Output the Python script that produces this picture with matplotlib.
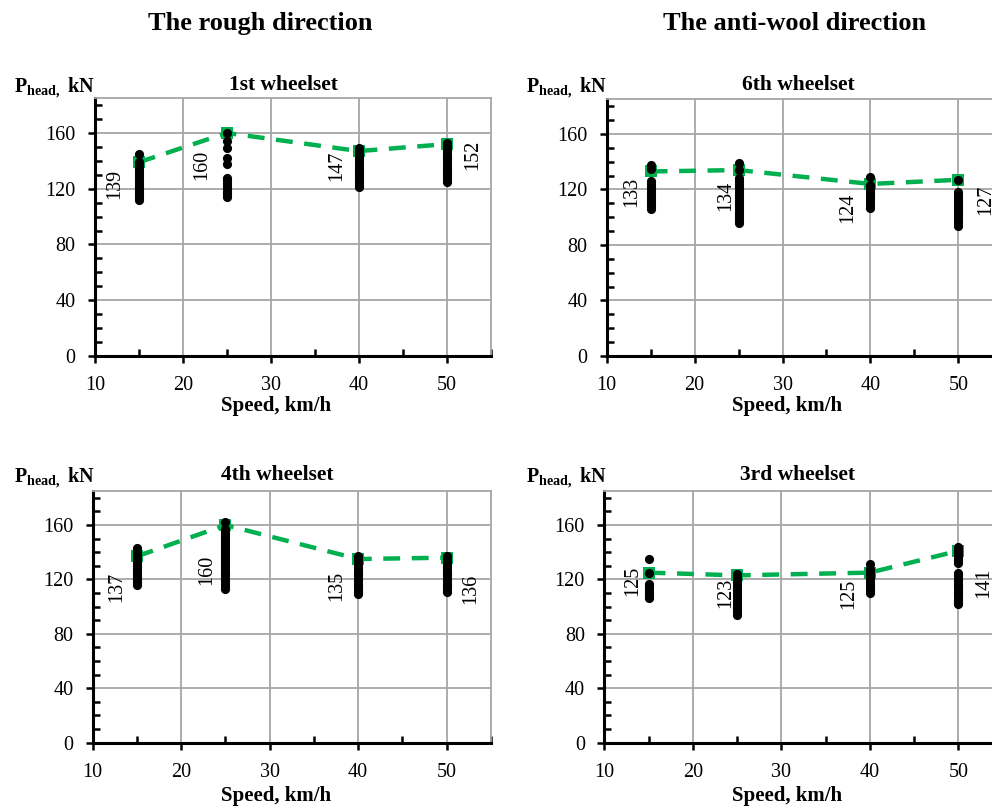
import matplotlib
matplotlib.use("Agg")
import matplotlib.pyplot as plt
from matplotlib.ticker import MultipleLocator

plt.rcParams['font.family'] = 'Liberation Serif'
plt.rcParams['mathtext.fontset'] = 'custom'
plt.rcParams['mathtext.rm'] = 'Liberation Serif'
plt.rcParams['mathtext.bf'] = 'Liberation Serif:bold'

speeds = [15, 25, 40, 50]

# 1st wheelset (rough direction)
ws1_max = [139, 160, 147, 152]
ws1_15 = [145, 139, 137, 135, 133, 131, 129, 127, 125, 123, 121, 119, 117, 115, 113, 112]
ws1_25 = [160, 154, 149, 142, 138, 128, 126, 124, 122, 120, 118, 116, 114]
ws1_40 = [149, 147, 145, 143, 141, 139, 137, 135, 133, 131, 129, 127, 125, 123, 121]
ws1_50 = [153, 151, 149, 147, 145, 143, 141, 139, 137, 135, 133, 131, 129, 127, 125]

# 6th wheelset (anti-wool direction)
ws6_max = [133, 134, 124, 127]
ws6_15 = [138, 135, 126, 124, 122, 120, 118, 116, 114, 112, 110, 108, 106]
ws6_25 = [139, 134, 128, 126, 124, 122, 120, 118, 116, 114, 112, 110, 108, 106, 104, 102, 100, 98, 96]
ws6_40 = [129, 123, 121, 119, 117, 115, 113, 111, 109, 107]
ws6_50 = [127, 118, 116, 114, 112, 110, 108, 106, 104, 102, 100, 98, 96, 94]

# 4th wheelset (rough direction)
ws4_max = [137, 160, 135, 136]
ws4_15 = [143, 140, 138, 136, 134, 132, 130, 128, 126, 124, 122, 120, 118, 116]
ws4_25 = [162, 157, 155, 153, 151, 149, 147, 145, 143, 141, 139, 137, 135, 133,
          131, 129, 127, 125, 123, 121, 119, 117, 115, 113]
ws4_40 = [137, 135, 133, 131, 129, 127, 125, 123, 121, 119, 117, 115, 113, 111, 109]
ws4_50 = [137, 135, 133, 131, 129, 127, 125, 123, 121, 119, 117, 115, 113, 111]

# 3rd wheelset (anti-wool direction)
ws3_max = [125, 123, 125, 141]
ws3_15 = [135, 125, 117, 115, 113, 111, 109, 107, 106]
ws3_25 = [124, 122, 120, 118, 116, 114, 112, 110, 108, 106, 104, 102, 100, 98, 96, 94]
ws3_40 = [131, 128, 126, 124, 122, 120, 118, 116, 114, 112, 110]
ws3_50 = [144, 142, 140, 138, 136, 134, 132, 125, 123, 121, 119, 117, 115, 113,
          111, 109, 107, 105, 103, 102]

W, H = 992, 809
fig = plt.figure(figsize=(W / 100, H / 100), dpi=100)

green = '#00b050'
gridc = '#a6a6a6'

# label offsets in pixels (dx, dy downward) for the rotated value labels
panels = [
    dict(title='1st wheelset', box=(95, 356, 395.6, 257.9), ymaxv=ws1_max,
         cols=[ws1_15, ws1_25, ws1_40, ws1_50],
         offs=[(-24, 22), (-25, 32), (-22, 15), (26, 11)],
         lab=(14, 92), tit=(283, 90), xl=(276, 411)),
    dict(title='6th wheelset', box=(606.7, 356, 395.6, 256.7), ymaxv=ws6_max,
         cols=[ws6_15, ws6_25, ws6_40, ws6_50],
         offs=[(-19, 20), (-13, 26), (-23, 24), (27, 20)],
         lab=(526, 92), tit=(798, 90), xl=(787, 411)),
    dict(title='4th wheelset', box=(92.7, 742.7, 398.2, 251.7), ymaxv=ws4_max,
         cols=[ws4_15, ws4_25, ws4_40, ws4_50],
         offs=[(-20, 31), (-19, 45), (-21, 27), (24, 31)],
         lab=(14, 482), tit=(277, 480), xl=(276, 801)),
    dict(title='3rd wheelset', box=(604.3, 742.7, 398.2, 251.7), ymaxv=ws3_max,
         cols=[ws3_15, ws3_25, ws3_40, ws3_50],
         offs=[(-16, 8), (-11, 18), (-21, 21), (25, 32)],
         lab=(526, 482), tit=(798, 480), xl=(787, 801)),
]

for p in panels:
    x0, y0, w, h = p['box']
    ax = fig.add_axes([x0 / W, 1 - y0 / H, w / W, h / H])
    ax.set_xlim(10, 55)
    ax.set_ylim(0, 185)
    ax.xaxis.set_major_locator(MultipleLocator(10))
    ax.xaxis.set_minor_locator(MultipleLocator(5))
    ax.yaxis.set_minor_locator(MultipleLocator(10))
    ax.set_yticks([0, 40, 80, 120, 160])
    ax.grid(True, which='major', color=gridc, linewidth=1.3)
    ax.set_axisbelow(True)
    for s in ['top', 'right']:
        ax.spines[s].set_color(gridc)
        ax.spines[s].set_linewidth(1.3)
    for s in ['left', 'bottom']:
        ax.spines[s].set_linewidth(2.2)
    ax.tick_params(which='major', direction='out', length=5, width=1.8,
                   labelsize=14.5)
    ax.tick_params(axis='x', which='major', pad=9.5)
    ax.tick_params(axis='y', which='major', pad=9)
    ax.tick_params(which='minor', direction='in', length=5, width=1.8)

    ax.plot(speeds, p['ymaxv'], color=green, linewidth=3.2,
            linestyle=(0, (3.8, 2.6)), marker='s', markersize=9,
            markeredgewidth=0, zorder=2, clip_on=False)
    for sp, col in zip(speeds, p['cols']):
        ax.plot([sp] * len(col), col, linestyle='none', marker='o',
                markersize=6.6, color='black', markeredgewidth=0, zorder=3)
    for sp, v, (dx, dy) in zip(speeds, p['ymaxv'], p['offs']):
        ax.annotate(str(v), (sp, v), xytext=(dx, -dy), textcoords='offset pixels',
                    rotation=90, ha='center', va='center', fontsize=14.5,
                    annotation_clip=False)

    fig.text(p['lab'][0] / W, 1 - p['lab'][1] / H, r'$\mathbf{P}_{\mathbf{head,}}$ kN',
             fontsize=14.5, fontweight='bold', ha='left', va='baseline')
    fig.text(p['tit'][0] / W, 1 - p['tit'][1] / H, p['title'],
             fontsize=15.5, fontweight='bold', ha='center', va='baseline')
    fig.text(p['xl'][0] / W, 1 - p['xl'][1] / H, 'Speed, km/h',
             fontsize=15, fontweight='bold', ha='center', va='baseline')

fig.text(260 / W, 1 - 30 / H, 'The rough direction', fontsize=19,
         fontweight='bold', ha='center', va='baseline')
fig.text(795 / W, 1 - 30 / H, 'The anti-wool direction', fontsize=19,
         fontweight='bold', ha='center', va='baseline')

fig.savefig('out.png', dpi=100)
